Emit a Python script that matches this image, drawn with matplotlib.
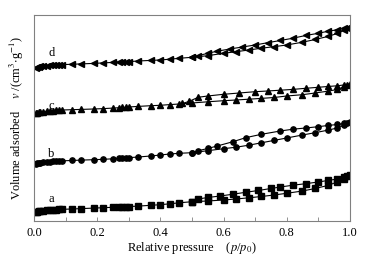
import numpy as np
import matplotlib
matplotlib.use("Agg")
import matplotlib.pyplot as plt
from matplotlib.ticker import MultipleLocator

plt.rcParams['font.family'] = ['Liberation Serif', 'DejaVu Serif']
plt.rcParams['mathtext.fontset'] = 'stix'

# adsorption branch pressures (shared by all samples)
x_ads = [0.005, 0.01, 0.015, 0.02, 0.03, 0.04, 0.05, 0.06, 0.07, 0.08, 0.09,
         0.12, 0.15, 0.19, 0.22, 0.25, 0.27, 0.28, 0.29, 0.30, 0.33, 0.37,
         0.40, 0.43, 0.46, 0.50, 0.55, 0.60, 0.64, 0.68, 0.72, 0.76, 0.80,
         0.85, 0.89, 0.93, 0.96, 0.98, 0.99]

a_ads = [8.5, 9, 9.5, 10, 10.3, 10.6, 10.9, 11.1, 11.3, 11.5, 11.7, 12, 12.4,
         12.9, 13.3, 13.7, 14, 14.1, 14.2, 14.4, 14.9, 15.7, 16.3, 17.2, 18.2,
         19.3, 20, 21, 22, 23.2, 24.5, 26, 27.7, 30, 32.5, 35.5, 39, 42, 44.5]
b_ads = [57, 57.5, 58, 58.3, 58.7, 59, 59.3, 59.6, 59.8, 60, 60.2, 60.5, 60.9,
         61.3, 61.7, 62.2, 62.6, 62.8, 63, 63.3, 64, 65, 66, 67, 67.7, 68.3,
         70.3, 72.3, 73.8, 75.8, 78.2, 80.6, 83, 86, 88.3, 90.8, 93, 95.5, 97.5]
c_ads = [107.7, 108.2, 108.6, 109, 109.4, 109.8, 110.1, 110.4, 110.6, 110.8,
         111, 111.3, 111.6, 112, 112.4, 112.9, 113.3, 113.5, 113.7, 114, 114.6,
         115.3, 115.7, 116.4, 117, 118, 119.2, 120.3, 121, 121.8, 122.6, 123.5,
         125, 126.3, 128, 129.8, 131.5, 134, 136]
d_ads = [153.3, 153.8, 154.2, 154.6, 155, 155.3, 155.6, 155.8, 156, 156.2,
         156.4, 156.7, 157.1, 157.6, 158.1, 158.6, 159, 159.1, 159.2, 159.3,
         160, 160.6, 161, 161.8, 162.7, 163.7, 165.3, 167.7, 169.3, 171, 172.8,
         174.3, 176, 178.8, 181.5, 184.5, 187.5, 190.5, 192.5]

# desorption branches
a_des_x = [1.0, 0.98, 0.96, 0.93, 0.90, 0.86, 0.82, 0.78, 0.75, 0.71, 0.67,
           0.63, 0.59, 0.55, 0.52, 0.50]
a_des = [46, 43.5, 42, 40.5, 39, 37.3, 35.8, 34, 32.5, 30.5, 28.7, 26.8, 25,
         23.5, 22, 19.3]
b_des_x = [1.0, 0.98, 0.96, 0.93, 0.90, 0.86, 0.82, 0.78, 0.72, 0.67, 0.63,
           0.58, 0.55, 0.52, 0.50]
b_des = [98.7, 97.5, 96.5, 95.5, 94.3, 93, 91.8, 90, 86.7, 83.3, 79.3, 75,
         72.5, 70.3, 68.3]
c_des_x = [1.0, 0.98, 0.96, 0.93, 0.90, 0.86, 0.82, 0.78, 0.74, 0.70, 0.65,
           0.60, 0.55, 0.52, 0.49, 0.47]
c_des = [137, 136, 135.2, 134.5, 133.7, 132.7, 131.6, 130.8, 130, 129.3, 128,
         126.7, 125, 123.7, 119.5, 117.5]
d_des_x = [1.0, 0.98, 0.96, 0.93, 0.90, 0.86, 0.82, 0.78, 0.74, 0.70, 0.66,
           0.62, 0.58, 0.55, 0.52, 0.50]
d_des = [193.7, 192.5, 191.2, 189.7, 187.7, 185.5, 182.8, 180.5, 178.3, 176,
         174, 172, 169.8, 167.7, 165.3, 163.7]

labels = ['a', 'b', 'c', 'd']
label_y = [18.7, 64.3, 112, 165]
markers = ['s', 'o', '^', '<']

fig = plt.figure(figsize=(3.71, 2.63), dpi=100)
ax = fig.add_axes([0.0916, 0.1597, 0.8514, 0.7833])

series = [(a_ads, a_des_x, a_des), (b_ads, b_des_x, b_des),
          (c_ads, c_des_x, c_des), (d_ads, d_des_x, d_des)]
for (ads, dx, dy), m, lab, ly in zip(series, markers, labels, label_y):
    ax.plot(x_ads, ads, '-', color='black', lw=0.8, marker=m, ms=3.8,
            mfc='black', mec='black')
    ax.plot(dx, dy, '-', color='black', lw=0.8, marker=m, ms=3.8,
            mfc='black', mec='black')
    ax.text(0.055, ly, lab, ha='center', va='baseline', fontsize=9)

ax.set_xlim(0, 1.0)
ax.set_ylim(0, 206)
ax.xaxis.set_major_locator(MultipleLocator(0.2))
ax.xaxis.set_minor_locator(MultipleLocator(0.1))
ax.xaxis.set_major_formatter(plt.FormatStrFormatter('%.1f'))
ax.tick_params(axis='x', which='both', direction='in', length=3,
               width=0.6, color='#808080', labelsize=9, pad=4)
ax.set_yticks([])
for s in ax.spines.values():
    s.set_color('#808080')
    s.set_linewidth(0.8)

ax.set_xlabel(r'Relative pressure    ($p$/$p_0$)', fontsize=9, labelpad=1)
ax.set_ylabel(r'Volume adsorbed    $v$ /(cm$^3$$\cdot$g$^{-1}$)',
              fontsize=9, labelpad=6)

fig.savefig('out.png', dpi=100)
